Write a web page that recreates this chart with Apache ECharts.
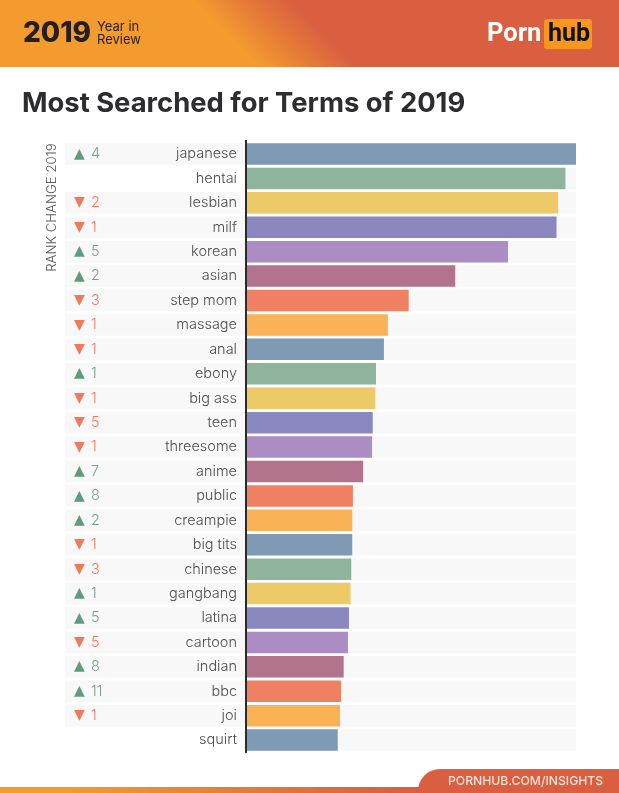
<!DOCTYPE html>
<html>
<head>
<meta charset="utf-8">
<script src="https://cdn.jsdelivr.net/npm/echarts@6/dist/echarts.min.js"></script>
<style>
html,body{margin:0;padding:0;background:#fff}
#main{width:619px;height:793px}
</style>
</head>
<body>
<div id="main"></div>
<script>
var terms = ['japanese','hentai','lesbian','milf','korean','asian','step mom','massage','anal','ebony','big ass','teen','threesome','anime','public','creampie','big tits','chinese','gangbang','latina','cartoon','indian','bbc','joi','squirt'];
var searches = [100,96.8,94.6,94.1,79.4,63.4,49.3,43.0,41.8,39.4,39.2,38.4,38.2,35.5,32.4,32.2,32.2,31.9,31.7,31.2,30.9,29.6,28.8,28.5,27.8];
var rankChange = [4,null,-2,-1,5,2,-3,-1,-1,1,-1,-5,-1,7,8,2,-1,-3,1,5,-5,8,11,-1,null];
var palette = ['#7f9ab5','#8fb59d','#ecca68','#8b87bf','#ab8dc4','#b2738d','#f08062','#fab257'];

var fontName = 'Inter';
var charts = echarts.init(document.getElementById('main'), null, {renderer:'canvas'});

// 左边一栏的底色条，没有排名变化的行留白
var stripData = [];
for (var i = 0; i < rankChange.length; i++) {
    stripData.push(rankChange[i] === null ? null : 1);
}

var option = {
    animation: false,
    backgroundColor: '#fff',
    textStyle: {fontFamily: fontName},
    grid: [
        {left: 246, top: 141.8, width: 330, height: 610.5},
        {left: 65, top: 141.8, width: 180, height: 610.5}
    ],
    xAxis: [
        {gridIndex: 0, type: 'value', min: 0, max: 100, show: false},
        {gridIndex: 1, type: 'value', min: 0, max: 1, show: false}
    ],
    yAxis: [
        {
            gridIndex: 0, type: 'category', data: terms, inverse: true, z: 5,
            axisTick: {show: false},
            axisLine: {show: true, lineStyle: {color: '#2b2b2e', width: 2}},
            axisLabel: {interval: 0, margin: 9, fontSize: 14.5, color: '#4d4d4f', fontFamily: fontName, fontWeight: 300}
        },
        {gridIndex: 1, type: 'category', data: terms, inverse: true, show: false}
    ],
    series: [
        {
            type: 'bar', xAxisIndex: 0, yAxisIndex: 0, data: searches, barWidth: 21.5, z: 2,
            showBackground: true,
            backgroundStyle: {color: '#f8f8f8'},
            itemStyle: {color: function (p) { return palette[p.dataIndex % palette.length]; }}
        },
        {
            type: 'bar', xAxisIndex: 1, yAxisIndex: 1, data: stripData, barWidth: 21.5, z: 1,
            itemStyle: {color: '#f8f8f8'},
            label: {
                show: true, position: 'insideLeft', distance: 9,
                formatter: function (p) {
                    var r = rankChange[p.dataIndex];
                    return r > 0 ? '{up|▲}{upn|' + r + '}' : '{down|▼}{downn|' + (-r) + '}';
                },
                rich: {
                    up: {color: '#5f9b7c', fontSize: 14, fontFamily: 'DejaVu Sans', width: 17},
                    upn: {color: '#6fa288', fontSize: 14.5, fontFamily: fontName, fontWeight: 300},
                    down: {color: '#f2785c', fontSize: 14, fontFamily: 'DejaVu Sans', width: 17},
                    downn: {color: '#f2785c', fontSize: 14.5, fontFamily: fontName, fontWeight: 300}
                }
            }
        }
    ],
    graphic: [
        {type: 'rect', x: 0, y: 0, shape: {width: 619, height: 67}, style: {
            fill: new echarts.graphic.LinearGradient(225, 33.5, 272.6, -16, [
                {offset: 0, color: '#f49b2f'}, {offset: 1, color: '#d95f40'}
            ], true)
        }},
        {type: 'text', x: 23, y: 20, style: {text: '2019', fontFamily: fontName, fontWeight: 800, fontSize: 28, fill: '#231f20'}},
        {type: 'text', x: 97, y: 20, style: {text: 'Year in\nReview', fontFamily: fontName, fontWeight: 400, fontSize: 13, lineHeight: 13.5, fill: '#231f20'}},
        {type: 'text', x: 487, y: 22, style: {text: 'Porn', fontFamily: 'Roboto', fontWeight: 700, fontSize: 25.5, fill: '#fff'}},
        {type: 'rect', x: 544, y: 19, shape: {width: 48, height: 30, r: 3}, style: {fill: '#f7971d'}},
        {type: 'text', x: 548, y: 22, style: {text: 'hub', fontFamily: 'Roboto', fontWeight: 700, fontSize: 25, fill: '#111'}},
        {type: 'text', x: 22, y: 90, style: {text: 'Most Searched for Terms of 2019', fontFamily: fontName, fontWeight: 700, fontSize: 27.4, fill: '#2d2d30'}},
        {type: 'text', x: 52, y: 207.5, rotation: Math.PI / 2, style: {text: 'RANK CHANGE 2019', align: 'center', verticalAlign: 'middle', fontFamily: fontName, fontWeight: 300, fontSize: 13.2, fill: '#58585a'}},
        // 轴线顶端比第一行略高
        {type: 'rect', x: 245, y: 140, shape: {width: 2, height: 3}, style: {fill: '#2b2b2e'}},
        {type: 'rect', x: 0, y: 787, shape: {width: 619, height: 6}, style: {
            fill: new echarts.graphic.LinearGradient(0, 0, 1, 0, [
                {offset: 0, color: '#f49b2f'}, {offset: 0.1, color: '#f49b2f'}, {offset: 0.65, color: '#d95f40'}, {offset: 1, color: '#d95f40'}
            ])
        }},
        {type: 'rect', x: 418, y: 769, shape: {width: 201, height: 24, r: [22, 0, 0, 0]}, style: {fill: '#d95f40'}},
        {type: 'text', x: 448, y: 775, style: {text: 'PORNHUB.COM/INSIGHTS', fontFamily: fontName, fontWeight: 500, fontSize: 12.2, fill: '#fbe3d8'}}
    ]
};
charts.setOption(option);
</script>
</body>
</html>
